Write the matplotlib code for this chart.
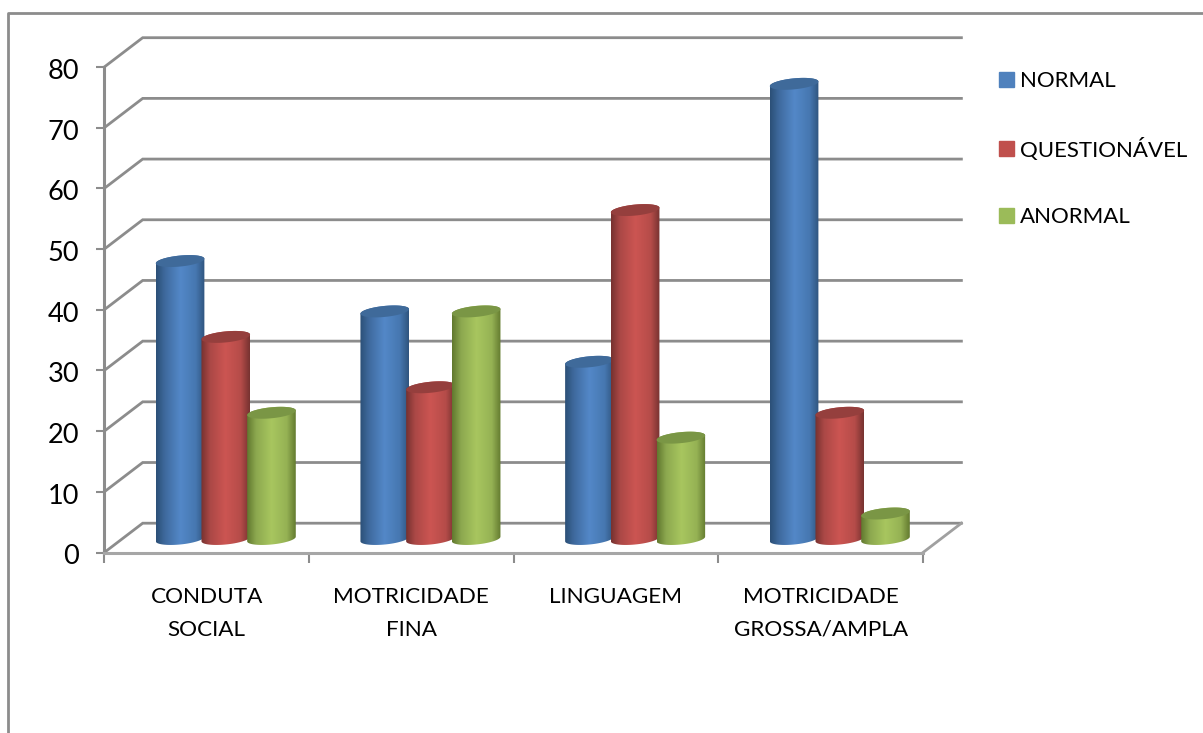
# %% Cylinder chart of development areas
import numpy as np
import matplotlib.pyplot as plt
from matplotlib.colors import LinearSegmentedColormap
from matplotlib.lines import Line2D
from matplotlib.patches import Patch, Polygon
from matplotlib.transforms import ScaledTranslation

plt.rcParams["font.family"] = ["Lato", "DejaVu Sans"]

# %% Data
categories = ["CONDUTA\nSOCIAL", "MOTRICIDADE\nFINA", "LINGUAGEM", "MOTRICIDADE\nGROSSA/AMPLA"]
series_names = ["NORMAL", "QUESTIONÁVEL", "ANORMAL"]
normal = [45.8, 37.5, 29.2, 75.0]
questionavel = [33.3, 25.0, 54.2, 20.8]
anormal = [20.8, 37.5, 16.7, 4.2]
y_ticks = [0, 10, 20, 30, 40, 50, 60, 70, 80]

# %% Styles
W, H = 1203, 733
GREY = "#8c8c8c"
# edge dark, shoulder, bright middle, shoulder, edge dark, then the cap colour and legend colour
shades = [
    (["#2c5078", "#3f6a9e", "#5388c8", "#4677b0", "#30557f"], "#3f6a9a", "#4f81bd"),
    (["#773230", "#ab4846", "#cc5552", "#b54c49", "#783331"], "#953f3d", "#c0504d"),
    (["#62792f", "#8ca84f", "#a8c65f", "#95b254", "#647b30"], "#7a9645", "#9bbb59"),
]

# axes geometry in pixels
left, bottom, right, top = 104.3, 552.5, 923.0, 67.0
px_x = (right - left) / 4  # pixels per category
px_y = (bottom - top) / 80  # pixels per unit

depth_x = 38.4 / px_x
depth_y = 29.3 / px_y
mid_x = 0.0935
mid_y = 13.5 / px_y
half_w = 24.3 / px_x
step = 45.7 / px_x
tilt = 2.3
b = 5.5


def ellipse(xc, y, t):
    xs = xc + half_w * np.cos(t)
    ys = y + (tilt * np.cos(t) + b * np.sin(t)) / px_y
    return np.column_stack([xs, ys])


def cylinder(ax, xc, value, stops, cap, z):
    y0 = mid_y
    y1 = mid_y + value
    low = ellipse(xc, y0, np.linspace(np.pi, 2 * np.pi, 40))
    high = ellipse(xc, y1, np.linspace(0, np.pi, 40))
    body = ax.add_patch(Polygon(np.vstack([low, high]), fc="none", ec="none", zorder=z))
    cmap = LinearSegmentedColormap.from_list("c", list(zip([0, 0.18, 0.5, 0.82, 1], stops)))
    im = ax.imshow(
        np.linspace(0, 1, 64)[None, :],
        extent=[xc - half_w, xc + half_w, y0 - 2, y1 + 2],
        cmap=cmap,
        aspect="auto",
        interpolation="bilinear",
        zorder=z,
    )
    im.set_clip_path(body)
    lid = ellipse(xc, y1, np.linspace(0, 2 * np.pi, 80))
    ax.add_patch(Polygon(lid, fc=cap, ec="none", zorder=z + 0.1))


# %% Plot
fig = plt.figure(figsize=(W / 100, H / 100), dpi=100)
ax = fig.add_axes([left / W, 1 - bottom / H, (right - left) / W, (bottom - top) / H])

# walls
for v in y_ticks:
    ax.plot([0, depth_x, 4 + depth_x], [v, v + depth_y, v + depth_y],
            color=GREY, lw=2.0, clip_on=False, zorder=1, solid_joinstyle="miter")
ax.plot([4, 4 + depth_x], [0, depth_y], color="#a0a0a0", lw=2.0, clip_on=False, zorder=1)

for k, group in enumerate(zip(normal, questionavel, anormal)):
    for j, value in enumerate(group):
        xc = k + 0.5 + mid_x + (j - 1) * step
        cylinder(ax, xc, value, shades[j][0], shades[j][1], 3 + j)

ax.set_xlim(0, 4)
ax.set_ylim(0, 80)
ax.patch.set_alpha(0)

ax.spines["top"].set_visible(False)
ax.spines["right"].set_visible(False)
ax.spines["left"].set_color(GREY)
ax.spines["left"].set_linewidth(2.2)
ax.spines["bottom"].set_color("#a6a6a6")
ax.spines["bottom"].set_linewidth(2.2)

ax.set_yticks(y_ticks)
ax.tick_params(axis="y", length=6, width=1.5, color=GREY, pad=12, labelsize=19.5)
down = ScaledTranslation(0, -2 / 100, fig.dpi_scale_trans)
for lbl in ax.get_yticklabels():
    lbl.set_transform(lbl.get_transform() + down)
ax.set_xticks(range(5))
ax.set_xticklabels([])
ax.tick_params(axis="x", which="major", length=7.5, width=1.5, color=GREY)
ax.set_xticks(np.arange(4) + 0.5, labels=categories, minor=True, linespacing=1.78)
ax.tick_params(axis="x", which="minor", length=0, pad=25, labelsize=16.2)

# legend
fs = 16
handles = [Patch(color=s[2]) for s in shades]
fig.legend(
    handles, series_names,
    loc="upper left",
    bbox_to_anchor=(999 / W, 1 - 71 / H),
    frameon=False,
    fontsize=fs,
    borderpad=0,
    borderaxespad=0,
    handlelength=10.8 / fs,
    handleheight=10.8 / fs,
    handletextpad=4.5 / fs,
    labelspacing=2.1,
)

# outer frame, cut off by the picture edge
fig.add_artist(Line2D([8 / W, 8 / W, 1], [0, 1 - 13 / H, 1 - 13 / H], color=GREY, lw=2.0))

fig.savefig("out.png", dpi=100)
